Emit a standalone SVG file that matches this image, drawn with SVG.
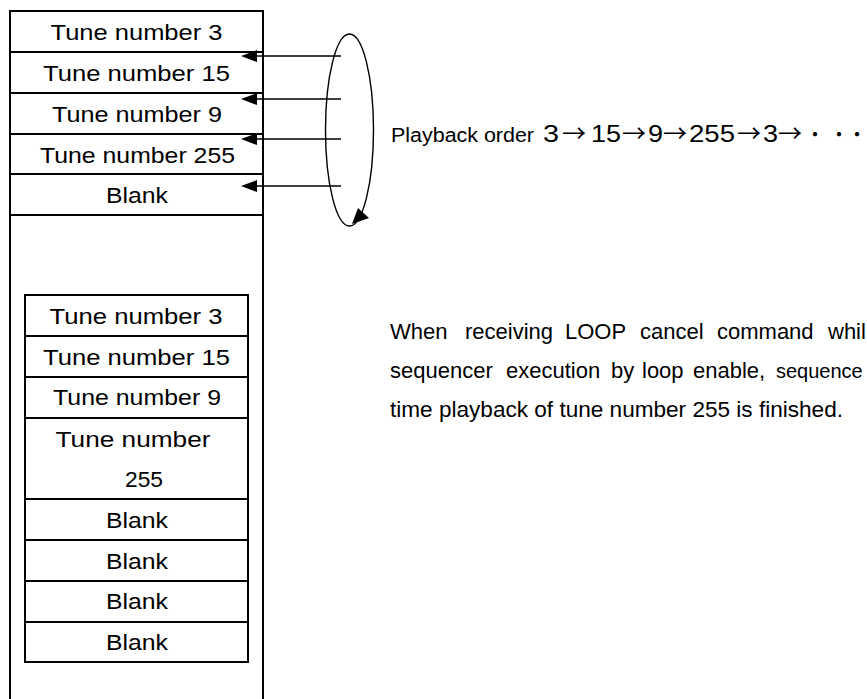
<svg xmlns="http://www.w3.org/2000/svg" width="867" height="699" viewBox="0 0 867 699">
<style>
.box{fill:#fff;stroke:#000;stroke-width:2}
.sep{stroke:#000;stroke-width:2;fill:none}
.t{font-family:"Liberation Sans",Arial,sans-serif;font-size:22px;fill:#000;text-anchor:middle}
.p{font-family:"Liberation Sans",Arial,sans-serif;font-size:22px;fill:#000}
.cj{font-family:"Noto Sans CJK JP",sans-serif}
.ln{stroke:#000;stroke-width:1.4;fill:none}
.ah{fill:#000}
</style>
<rect width="867" height="699" fill="#fff"/>
<g id="memory-outer">
<rect class="box" x="10" y="11" width="253" height="720"/>
</g>
<g id="u1"><line class="sep" x1="10" y1="52" x2="263" y2="52"/><text class="t" x="136.5" y="40" textLength="172" lengthAdjust="spacingAndGlyphs">Tune number 3</text></g>
<g id="u2"><line class="sep" x1="10" y1="93" x2="263" y2="93"/><text class="t" x="136.5" y="81" textLength="187" lengthAdjust="spacingAndGlyphs">Tune number 15</text></g>
<g id="u3"><line class="sep" x1="10" y1="134" x2="263" y2="134"/><text class="t" x="137" y="122" textLength="170" lengthAdjust="spacingAndGlyphs">Tune number 9</text></g>
<g id="u4"><line class="sep" x1="10" y1="174" x2="263" y2="174"/><text class="t" x="137.5" y="163" textLength="195" lengthAdjust="spacingAndGlyphs">Tune number 255</text></g>
<g id="u5"><line class="sep" x1="10" y1="215" x2="263" y2="215"/><text class="t" x="137" y="203" textLength="62" lengthAdjust="spacingAndGlyphs">Blank</text></g>

<g id="lower-list">
<rect class="box" x="25" y="295" width="223" height="367"/>
</g>
<g id="l1"><line class="sep" x1="25" y1="336" x2="248" y2="336"/><text class="t" x="136" y="324" textLength="173" lengthAdjust="spacingAndGlyphs">Tune number 3</text></g>
<g id="l2"><line class="sep" x1="25" y1="377" x2="248" y2="377"/><text class="t" x="136.5" y="365" textLength="187" lengthAdjust="spacingAndGlyphs">Tune number 15</text></g>
<g id="l3"><line class="sep" x1="25" y1="418" x2="248" y2="418"/><text class="t" x="137" y="405" textLength="168" lengthAdjust="spacingAndGlyphs">Tune number 9</text></g>
<g id="l4"><line class="sep" x1="25" y1="499" x2="248" y2="499"/><text class="t" x="133" y="447" textLength="155" lengthAdjust="spacingAndGlyphs">Tune number</text><text class="t" x="144" y="487" textLength="38" lengthAdjust="spacingAndGlyphs">255</text></g>
<g id="l5"><line class="sep" x1="25" y1="540" x2="248" y2="540"/><text class="t" x="137" y="528" textLength="62" lengthAdjust="spacingAndGlyphs">Blank</text></g>
<g id="l6"><line class="sep" x1="25" y1="581" x2="248" y2="581"/><text class="t" x="137" y="569" textLength="62" lengthAdjust="spacingAndGlyphs">Blank</text></g>
<g id="l7"><line class="sep" x1="25" y1="622" x2="248" y2="622"/><text class="t" x="137" y="609" textLength="62" lengthAdjust="spacingAndGlyphs">Blank</text></g>
<g id="l8"><text class="t" x="137" y="650" textLength="62" lengthAdjust="spacingAndGlyphs">Blank</text></g>

<g id="connectors">
<line class="ln" x1="341" y1="56" x2="255" y2="56"/><polygon class="ah" points="241,56 257,50 257,62"/>
<line class="ln" x1="341" y1="99" x2="255" y2="99"/><polygon class="ah" points="241,99 257,93 257,105"/>
<line class="ln" x1="341" y1="139" x2="255" y2="139"/><polygon class="ah" points="241,139 257,133 257,145"/>
<line class="ln" x1="341" y1="186" x2="255" y2="186"/><polygon class="ah" points="241,186 257,180 257,192"/>
<ellipse class="ln" cx="349.5" cy="130" rx="24" ry="96"/>
<polygon class="ah" points="352,224 358,208 369,218"/>
</g>

<g id="playback-label">
<text class="p" y="142"><tspan x="391" font-size="20" textLength="143" lengthAdjust="spacingAndGlyphs">Playback order</tspan><tspan font-size="24" x="543" textLength="16" lengthAdjust="spacingAndGlyphs">3</tspan><tspan class="cj" font-size="24" x="562">→</tspan><tspan font-size="24" x="591" textLength="30" lengthAdjust="spacingAndGlyphs">15</tspan><tspan class="cj" font-size="24" x="622">→</tspan><tspan font-size="24" x="648" textLength="15" lengthAdjust="spacingAndGlyphs">9</tspan><tspan class="cj" font-size="24" x="663">→</tspan><tspan font-size="24" x="689" textLength="46" lengthAdjust="spacingAndGlyphs">255</tspan><tspan class="cj" font-size="24" x="737">→</tspan><tspan font-size="24" x="763" textLength="15" lengthAdjust="spacingAndGlyphs">3</tspan><tspan class="cj" font-size="24" x="778">→</tspan><tspan class="cj" font-size="20" x="805 829 847">・・・</tspan></text>
</g>

<g id="note">
<text class="p" y="339"><tspan x="390">When</tspan><tspan x="465">receiving</tspan><tspan x="565">LOOP</tspan><tspan x="640">cancel</tspan><tspan x="717">command</tspan><tspan x="828">whil</tspan></text>
<text class="p" y="378"><tspan x="390">sequencer</tspan><tspan x="506">execution</tspan><tspan x="611">by</tspan><tspan x="642">loop</tspan><tspan x="693">enable,</tspan></text>
<text class="p" x="776" y="378" style="font-size:20px">sequence</text>
<text class="p" x="390" y="417" textLength="453" lengthAdjust="spacingAndGlyphs">time playback of tune number 255 is finished.</text>
</g>
</svg>
